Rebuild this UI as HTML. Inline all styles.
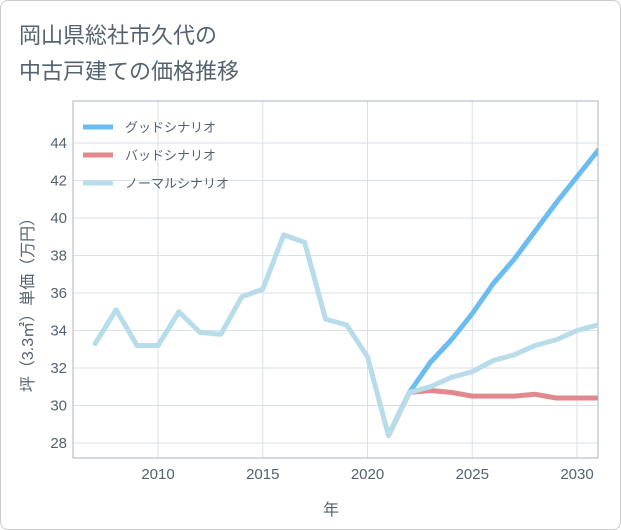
<!DOCTYPE html>
<html><head><meta charset="utf-8"><style>
body{margin:0;background:#fff;font-family:"Liberation Sans","Noto Sans CJK JP",sans-serif;}
#wrap{position:relative;width:619px;height:528px;border:1px solid #ccc;border-radius:8px;overflow:hidden;background:#fff}
</style></head><body>
<div id="wrap">
<svg id="chart" width="621" height="530">
<defs><clipPath id="clip"><rect x="72" y="100" width="525" height="357"/></clipPath></defs>
<text x="18" y="42" font-size="22" fill="#556270">岡山県総社市久代の</text>
<text x="18" y="78" font-size="22" fill="#556270">中古戸建ての価格推移</text>
<g id="grid"></g>
<rect x="72" y="100" width="525" height="357" fill="none" stroke="#a8b4c0"/>
<g id="series" clip-path="url(#clip)"></g>
<text x="330" y="514" font-size="16" fill="#556270" text-anchor="middle">年</text>
<text transform="translate(32,300) rotate(-90)" font-size="16" fill="#556270" text-anchor="middle">坪（3.3㎡）単価（万円）</text>
<g id="legend"></g>
</svg></div>
<script>
const years=[2007,2008,2009,2010,2011,2012,2013,2014,2015,2016,2017,2018,2019,2020,2021,2022,2023,2024,2025,2026,2027,2028,2029,2030,2031];
const normalVals=[33.3,35.1,33.2,33.2,35.0,33.9,33.8,35.8,36.2,39.1,38.7,34.6,34.3,32.6,28.4,30.7,31.0,31.5,31.8,32.4,32.7,33.2,33.5,34.0,34.3];
const goodYears=[2021,2022,2023,2024,2025,2026,2027,2028,2029,2030,2031];
const goodVals=[28.4,30.7,32.3,33.5,34.9,36.5,37.8,39.3,40.8,42.2,43.6];
const badVals=[28.4,30.7,30.8,30.7,30.5,30.5,30.5,30.6,30.4,30.4,30.4];
const xTicks=[2010,2015,2020,2025,2030];
const yTicks=[28,30,32,34,36,38,40,42,44];
const NS="http://www.w3.org/2000/svg";
const X=v=>157+(v-2010)*20.95, Y=v=>442-(v-28)*18.75;
function mk(t,a,p){const e=document.createElementNS(NS,t);for(const k in a)e.setAttribute(k,a[k]);p.appendChild(e);return e;}
const g=document.getElementById('grid');
xTicks.forEach(t=>{const l=mk('line',{x1:X(t),x2:X(t),y1:100,y2:457,stroke:'#d8e2ea'},g);


const tx=mk('text',{x:X(t),y:478,'font-size':15,fill:'#556270','text-anchor':'middle'},g);tx.textContent=t;

});
yTicks.forEach(t=>{const l=mk('line',{x1:72,x2:597,y1:Y(t),y2:Y(t),stroke:'#d8e2ea'},g);


const tx=mk('text',{x:66,y:Y(t)+5,'font-size':15,fill:'#556270','text-anchor':'end'},g);tx.textContent=t;

});
const s=document.getElementById('series');
function line(xs,vs,c,name){const p=mk('polyline',{points:xs.map((x,i)=>X(x)+','+Y(vs[i])).join(' '),fill:'none',stroke:c,'stroke-width':5,'stroke-linejoin':'round','stroke-linecap':'round'},s);

}
line(goodYears,goodVals,'#6bbcf0','good-scenario-line');
line(goodYears,badVals,'#e08a8f','bad-scenario-line');
line(years,normalVals,'#b8dcea','normal-scenario-line');
const lg=document.getElementById('legend');
[['グッドシナリオ','#6bbcf0'],['バッドシナリオ','#e08a8f'],['ノーマルシナリオ','#b8dcea']].forEach((d,i)=>{const y=126+i*28;
const l=mk('line',{x1:82,x2:112,y1:y,y2:y,stroke:d[1],'stroke-width':5},lg);


const t=mk('text',{x:124,y:y+5,'font-size':13,fill:'#556270'},lg);t.textContent=d[0];

});
</script></body></html>
